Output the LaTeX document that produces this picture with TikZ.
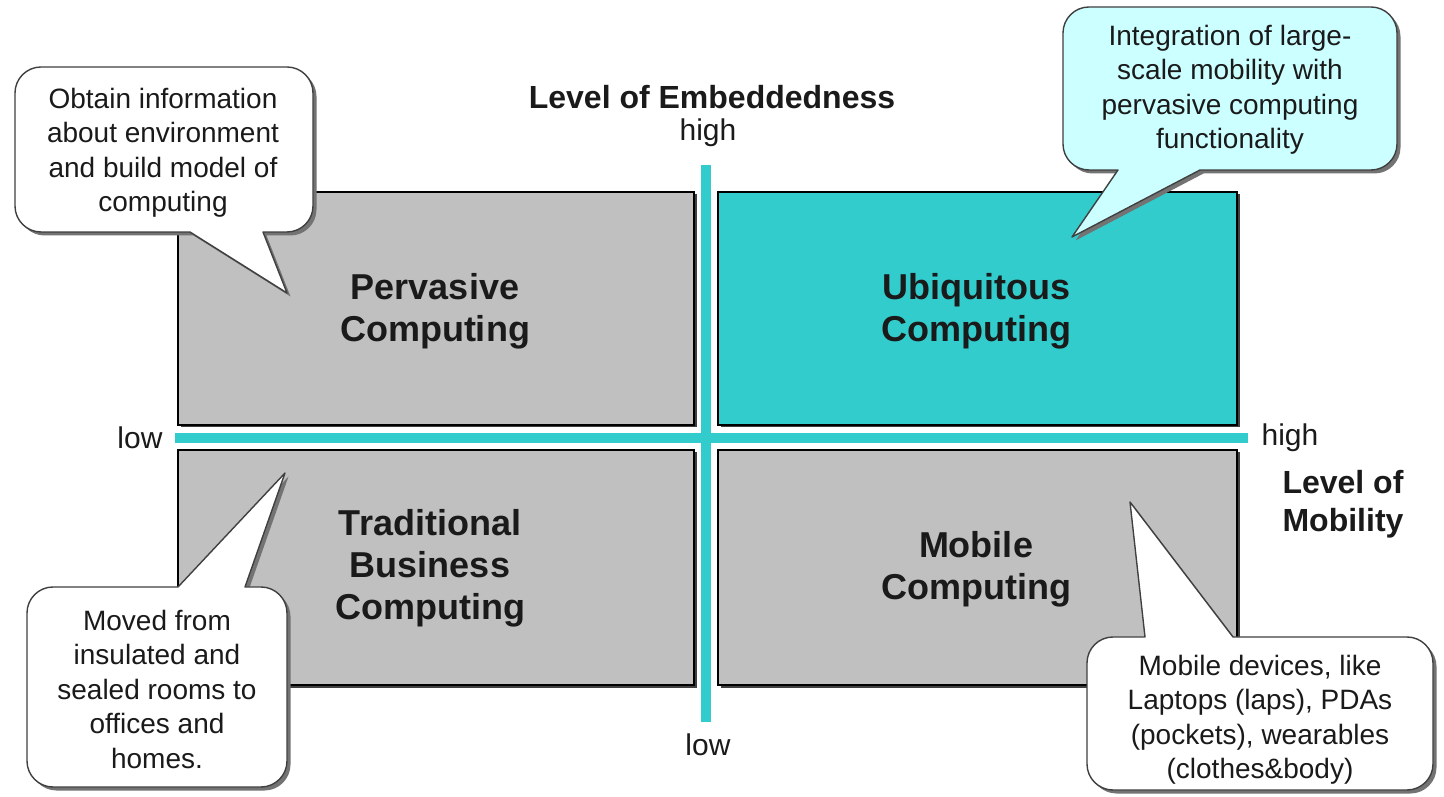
\documentclass[tikz,border=0pt]{standalone}
\usepackage{fontspec}
\setmainfont{Liberation Sans}
\definecolor{quadgray}{HTML}{C0C0C0}
\definecolor{teal}{HTML}{33CCCC}
\definecolor{paleteal}{HTML}{CCFFFF}
\definecolor{ink}{HTML}{1A1A1A}
\begin{document}
\begin{tikzpicture}[x=1pt,y=1pt,
  quad/.style={draw=black,line width=1.6pt},
  quadshadow/.style={fill=black!75,draw=none},
  axis/.style={draw=teal,line width=10pt},
  bubble/.style={draw=black!75,line width=1.4pt,line join=round},
  bubbleshadow/.style={fill=black!55,draw=none,shift={(3.5,-3.5)}},
  bubbletext/.style={align=center,text=ink,font=\fontsize{28}{34.5}\selectfont},
  quadlabel/.style={align=center,text=ink,font=\bfseries\fontsize{36}{42}\selectfont},
  axistitle/.style={align=center,text=ink,font=\bfseries\fontsize{32}{38}\selectfont},
  axislabel/.style={text=ink,font=\fontsize{30}{34}\selectfont}]
\useasboundingbox (0,0) rectangle (1444,796);
\fill[white] (0,0) rectangle (1444,796);

% quadrant boxes with drop shadows
\foreach \xa/\ya/\xb/\yb in {178/371/694/604, 718/371/1237/604, 178/111/694/346, 718/111/1237/346}
  \fill[quadshadow] (\xa+2.5,\ya-2.5) rectangle (\xb+2.5,\yb-2.5);
\filldraw[quad,fill=quadgray] (178,371) rectangle (694,604);
\filldraw[quad,fill=teal]     (718,371) rectangle (1237,604);
\filldraw[quad,fill=quadgray] (178,111) rectangle (694,346);
\filldraw[quad,fill=quadgray] (718,111) rectangle (1237,346);

% axes
\coordinate (hL) at (175,358);
\coordinate (hR) at (1248,358);
\coordinate (vB) at (706,74);
\coordinate (vT) at (706,631);
\draw[axis] (hL) -- (hR);
\draw[axis] (vB) -- (vT);

% quadrant labels
\node[quadlabel] (perv) at (435,485) {Pervasive\\Computing};
\node[quadlabel] (ubiq) at (976,485) {Ubiquitous\\Computing};
\node[quadlabel] (trad) at (430,228) {Traditional\\Business\\Computing};
\node[quadlabel] (mobi) at (976,227) {Mobile\\Computing};

% axis titles and ends
\node[axistitle] (embed) at (712,699) {Level of Embeddedness};
\node[axislabel] (ehigh) at (708,663) {high};
\node[axislabel] (elow)  at (708,51) {low};
\node[axislabel] (mlow)  at (140,358) {low};
\node[axislabel] (mhigh) at (1290,358) {high};
\node[axistitle] (mobty) at (1343,292) {Level of\\Mobility};

% callout: top left (tail on bottom edge)
\def\bubbleA{(41,729) -- (287,729) arc[start angle=90,end angle=0,radius=26] -- (313,590) arc[start angle=0,end angle=-90,radius=26] -- (263,564) -- (287,503) -- (190,564) -- (41,564) arc[start angle=-90,end angle=-180,radius=26] -- (15,703) arc[start angle=180,end angle=90,radius=26] -- cycle}
\fill[bubbleshadow] \bubbleA;
\filldraw[bubble,fill=white] \bubbleA;
\node[bubbletext] (noteA) at (163,643) {Obtain information\\about environment\\and build model of\\computing};

% callout: top right (tail on bottom edge)
\def\bubbleB{(1089,789) -- (1371,789) arc[start angle=90,end angle=0,radius=26] -- (1397,652) arc[start angle=0,end angle=-90,radius=26] -- (1200,626) -- (1072,559) -- (1118,626) -- (1089,626) arc[start angle=-90,end angle=-180,radius=26] -- (1063,763) arc[start angle=180,end angle=90,radius=26] -- cycle}
\fill[bubbleshadow] \bubbleB;
\filldraw[bubble,fill=paleteal] \bubbleB;
\node[bubbletext] (noteB) at (1230,706) {Integration of large-\\scale mobility with\\pervasive computing\\functionality};

% callout: bottom left (tail on top edge)
\def\bubbleC{(53,209) -- (178,209) -- (285,323) -- (245,209) -- (261,209) arc[start angle=90,end angle=0,radius=26] -- (287,35) arc[start angle=0,end angle=-90,radius=26] -- (53,9) arc[start angle=-90,end angle=-180,radius=26] -- (27,183) arc[start angle=180,end angle=90,radius=26] -- cycle}
\fill[bubbleshadow] \bubbleC;
\filldraw[bubble,fill=white] \bubbleC;
\node[bubbletext] (noteC) at (157,107) {Moved from\\insulated and\\sealed rooms to\\offices and\\homes.};

% callout: bottom right (tail on top edge)
\def\bubbleD{(1113,159) -- (1145,159) -- (1130,294) -- (1233,159) -- (1407,159) arc[start angle=90,end angle=0,radius=26] -- (1433,32) arc[start angle=0,end angle=-90,radius=26] -- (1113,6) arc[start angle=-90,end angle=-180,radius=26] -- (1087,133) arc[start angle=180,end angle=90,radius=26] -- cycle}
\fill[bubbleshadow] \bubbleD;
\filldraw[bubble,fill=white] \bubbleD;
\node[bubbletext] (noteD) at (1260,76) {Mobile devices, like\\Laptops (laps), PDAs\\(pockets), wearables\\(clothes\&body)};
\end{tikzpicture}
\end{document}
